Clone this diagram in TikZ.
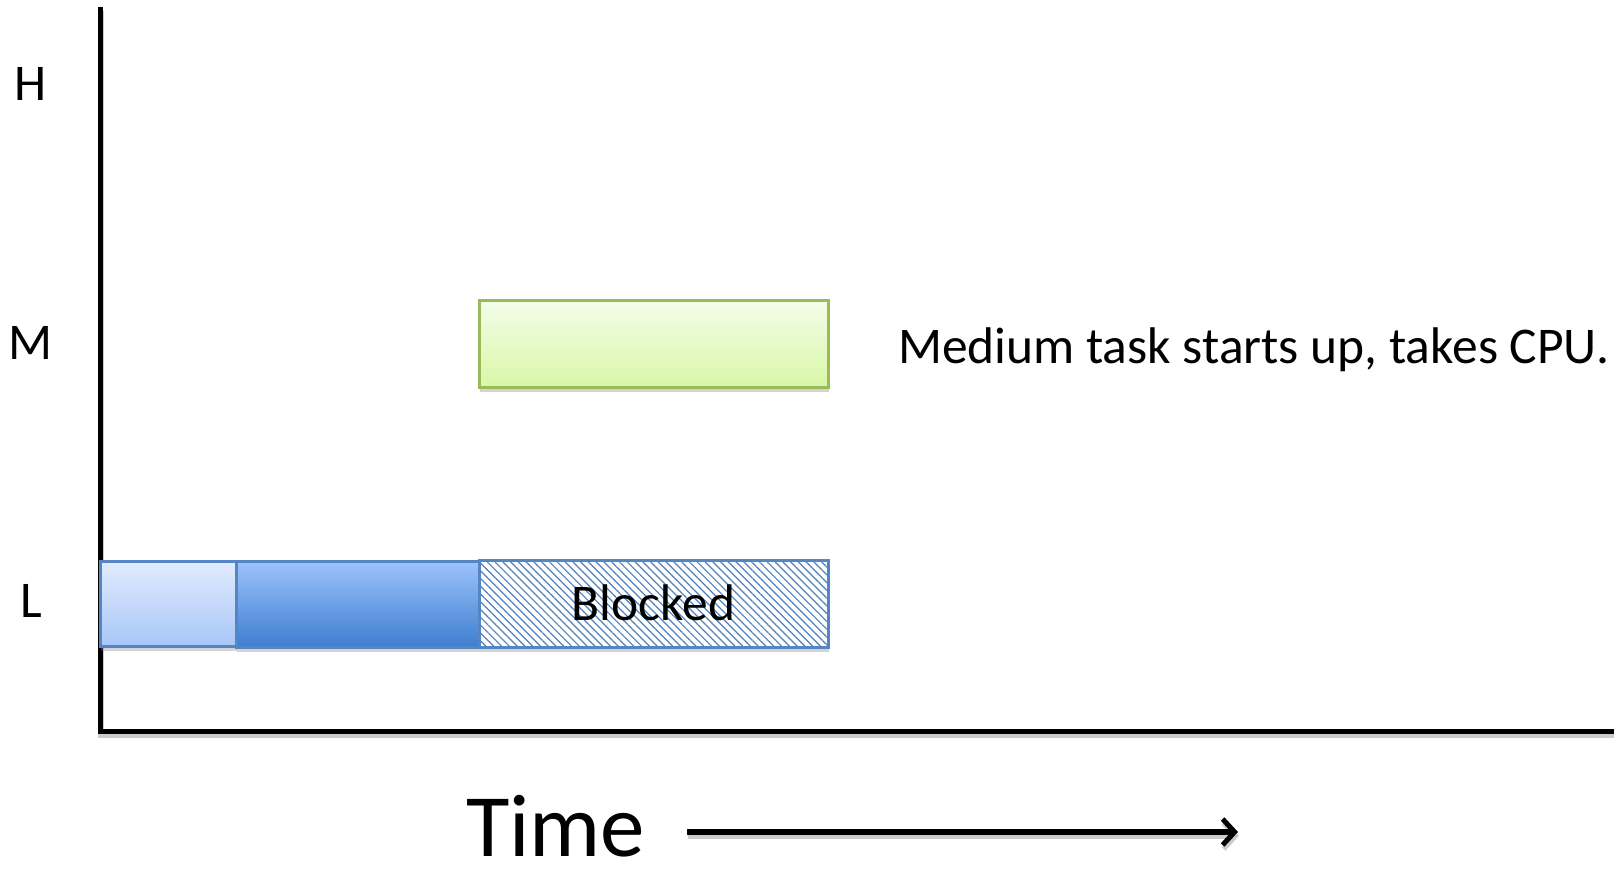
\documentclass[tikz,border=0pt]{standalone}
\usepackage{fontspec}
\setmainfont{Carlito}
\usetikzlibrary{arrows.meta,patterns.meta,shadows}
\definecolor{axisblack}{HTML}{000000}
\definecolor{lightTop}{HTML}{E2EBFD}
\definecolor{lightBot}{HTML}{A8C7F8}
\definecolor{darkTop}{HTML}{9DC3FB}
\definecolor{darkBot}{HTML}{3E7ECF}
\definecolor{blueEdge}{HTML}{5585C3}
\definecolor{greenTop}{HTML}{F4FDEA}
\definecolor{greenBot}{HTML}{D8F7A6}
\definecolor{greenEdge}{HTML}{9BBB59}
\definecolor{hatch}{HTML}{4F81BD}
\tikzset{
  bigtext/.style={font=\fontsize{51.5}{60}\selectfont, inner sep=0pt, outer sep=0pt},
  timetext/.style={font=\fontsize{89}{96}\selectfont, inner sep=0pt, outer sep=0pt},
  taskbox/.style={rectangle, inner sep=0pt, outer sep=0pt, line width=3pt,
    drop shadow={opacity=0.35, shadow xshift=1pt, shadow yshift=-5pt}},
  lightbox/.style={taskbox, draw=blueEdge, top color=lightTop, bottom color=lightBot},
  darkbox/.style={taskbox, draw=blueEdge, top color=darkTop, bottom color=darkBot},
  greenbox/.style={taskbox, draw=greenEdge, top color=greenTop, bottom color=greenBot},
  blockedbox/.style={taskbox, draw=blueEdge, preaction={fill=white},
    pattern={Lines[angle=-45,distance=5.5pt,line width=1.2pt]}, pattern color=hatch},
  lineshadow/.style={preaction={draw=black, draw opacity=0.2, line width=6pt,
    transform canvas={xshift=1pt,yshift=-4pt}}},
  axisline/.style={line width=5pt, draw=axisblack, lineshadow},
  timearrow/.style={draw=axisblack, line width=6pt, lineshadow,
    -{Straight Barb[length=12pt,width=26pt,line width=5pt]}}
}
\begin{document}
\begin{tikzpicture}[x=1pt,y=-1pt]
\useasboundingbox (0,0) rectangle (1614,868);
% axes
\coordinate (ytop) at (100,7);
\coordinate (origin) at (100,731);
\coordinate (xend) at (1620,731);
\draw[axisline] (ytop) -- (origin) -- (xend);
% labels
\node[bigtext, anchor=base] (H) at (31,100) {H};
\node[bigtext, anchor=base] (M) at (31,359) {M};
\node[bigtext, anchor=base] (L) at (31,617) {L};
% L row
\node[lightbox, minimum width=136pt, minimum height=85pt] (l1) at (168,603.5) {};
\node[darkbox, minimum width=243pt, minimum height=86pt] (l2) at (357.5,604) {};
\node[blockedbox, minimum width=349pt, minimum height=87pt] (l3) at (653.5,603.5) {};
\node[bigtext, anchor=base] (blk) at (653.5,620) {Blocked};
% M row
\node[greenbox, minimum width=349pt, minimum height=87pt] (m1) at (653.5,343.5) {};
\node[bigtext, anchor=base west] (note) at (898,363) {Medium task starts up, takes CPU.};
% time
\node[timetext, anchor=base west] (time) at (466,856) {Time};
\coordinate (a0) at (687,832);
\coordinate (a1) at (1238,832);
\draw[timearrow] (a0) -- (a1);
\end{tikzpicture}
\end{document}
